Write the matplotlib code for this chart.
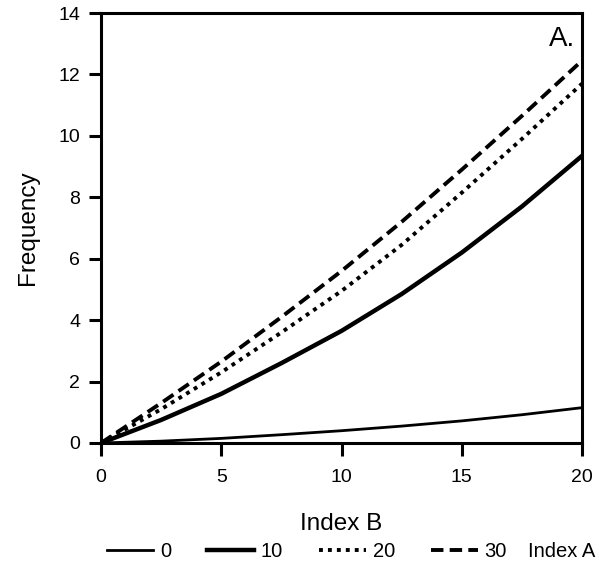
import matplotlib
matplotlib.use("Agg")
import matplotlib.pyplot as plt
from matplotlib.lines import Line2D

plt.rcParams['font.family'] = ['Liberation Sans', 'DejaVu Sans']

# values
index_b = [0, 2.5, 5, 7.5, 10, 12.5, 15, 17.5, 20]
freq_a0 = [0, 0.06, 0.15, 0.27, 0.4, 0.55, 0.72, 0.92, 1.15]
freq_a10 = [0, 0.75, 1.6, 2.6, 3.65, 4.85, 6.2, 7.7, 9.35]
freq_a20 = [0, 1.1, 2.3, 3.6, 4.95, 6.45, 8.15, 9.9, 11.7]
freq_a30 = [0, 1.3, 2.65, 4.1, 5.6, 7.2, 8.9, 10.65, 12.45]
legend_labels = ['0', '10', '20', '30']

fig = plt.figure(figsize=(6.03, 5.67), dpi=100)
ax = fig.add_axes([0.1675, 0.2187, 0.7977, 0.7583])

ax.plot(index_b, freq_a0, color='black', lw=2.0, ls='-')
ax.plot(index_b, freq_a10, color='black', lw=3.2, ls='-')
ax.plot(index_b, freq_a20, color='black', lw=2.8, ls=(0, (1.0, 1.3)))
ax.plot(index_b, freq_a30, color='black', lw=2.8, ls=(0, (3.2, 1.6)))

ax.set_xlim(0, 20)
ax.set_ylim(0, 14)
ax.set_xticks([0, 5, 10, 15, 20])
ax.set_yticks([0, 2, 4, 6, 8, 10, 12, 14])
for s in ax.spines.values():
    s.set_linewidth(2.2)
ax.tick_params(direction='out', length=9, width=2.2, labelsize=14)
ax.tick_params(axis='x', pad=10)
ax.tick_params(axis='y', pad=6)

ax.set_xlabel('Index B', fontsize=17.5, labelpad=19)
ax.set_ylabel('Frequency', fontsize=17.5, labelpad=14)
ax.text(0.985, 0.97, 'A.', transform=ax.transAxes, ha='right', va='top', fontsize=20)

handles = [
    Line2D([], [], color='black', lw=2.0, ls='-'),
    Line2D([], [], color='black', lw=3.2, ls='-'),
    Line2D([], [], color='black', lw=2.8, ls=(0, (1.0, 1.3))),
    Line2D([], [], color='black', lw=2.8, ls=(0, (3.2, 1.6))),
]
fig.legend(handles, legend_labels, ncol=4, loc='center left', bbox_to_anchor=(0.177, 0.028),
           frameon=False, fontsize=14.5, handlelength=2.3, handletextpad=0.35, columnspacing=1.8,
           borderaxespad=0, borderpad=0)
fig.text(0.876, 0.028, 'Index A', ha='left', va='center', fontsize=14.5)

fig.savefig('out.png', dpi=100)
